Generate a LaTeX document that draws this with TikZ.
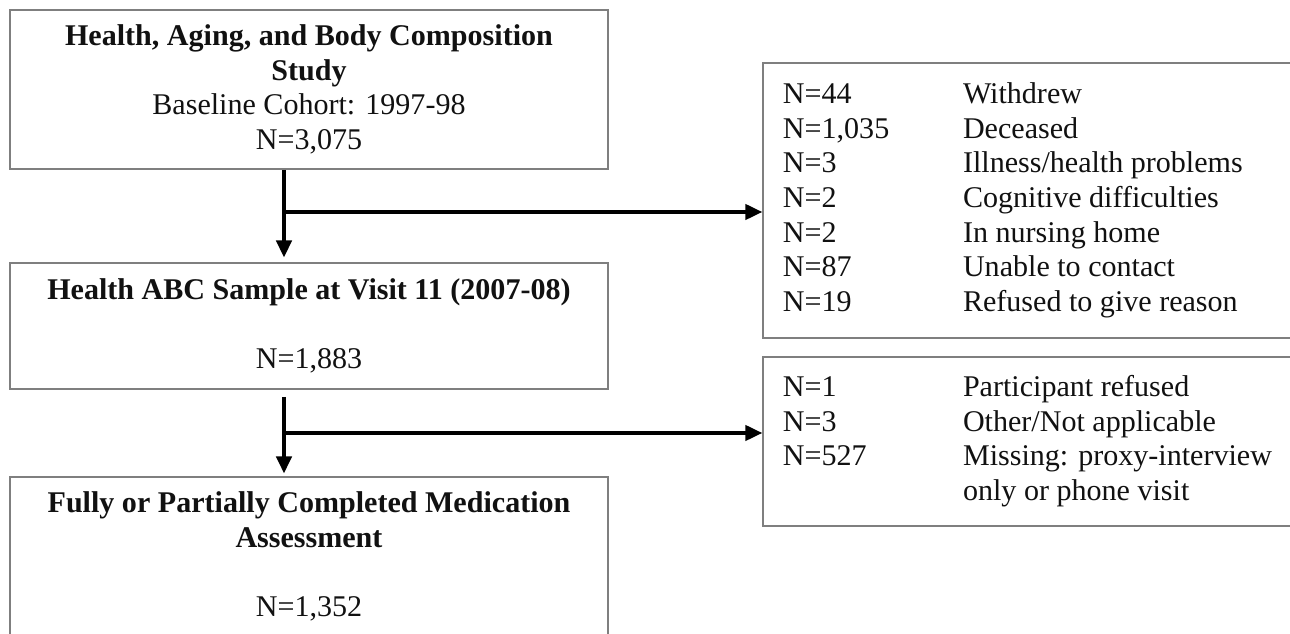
\documentclass[tikz,border=0pt]{standalone}
\usepackage{fontspec}
\setmainfont{Liberation Serif}
\usetikzlibrary{arrows.meta}
\definecolor{BoxLine}{HTML}{7F7F7F}
\definecolor{Ink}{HTML}{111111}

\begin{document}
\begin{tikzpicture}[x=0.0145cm,y=-0.0145cm,
  box/.style={draw=BoxLine,line width=0.6pt,minimum width=8.671cm,inner sep=0pt,align=center,text=Ink,font=\fontsize{12.4}{14.3}\selectfont},
  listbox/.style={draw=BoxLine,line width=0.6pt,minimum width=7.93cm,inner xsep=0.29cm,inner ysep=0pt,text=Ink,font=\fontsize{12.4}{14.3}\selectfont},
  flow/.style={line width=1.25pt,-{Triangle[length=7pt,width=6.4pt]}}
]
\useasboundingbox (0,0) rectangle (1290,634);
\clip (0,0) rectangle (1290,634);
\node[box,minimum height=2.306cm] (study) at (309,89.5) {
  \textbf{Health, Aging, and Body Composition}\\
  \textbf{Study}\\
  Baseline Cohort: 1997-98\\
  N=3,075
};
\node[box,minimum height=1.827cm] (visit) at (309,326) {
  \textbf{Health ABC Sample at Visit 11 (2007-08)}\\[14.3pt]
  N=1,883
};
\node[box,minimum height=2.306cm] (medassess) at (309,556.5) {
  \textbf{Fully or Partially Completed Medication}\\
  \textbf{Assessment}\\[14.3pt]
  N=1,352
};
\node[listbox,minimum height=3.99cm] (lost) at (1036.5,200.5) {
  \begin{tabular}{@{}p{2.61cm}@{}p{4.74cm}@{}}
  N=44 & Withdrew\\
  N=1,035 & Deceased\\
  N=3 & Illness/health problems\\
  N=2 & Cognitive difficulties\\
  N=2 & In nursing home\\
  N=87 & Unable to contact\\
  N=19 & Refused to give reason
  \end{tabular}
};
\node[listbox,minimum height=2.45cm] (nomeds) at (1036.5,441.5) {
  \begin{tabular}{@{}p{2.61cm}@{}p{4.74cm}@{}}
  N=1 & Participant refused\\
  N=3 & Other/Not applicable\\
  N=527 & Missing: proxy-interview\\
   & only or phone visit
  \end{tabular}
};
\coordinate (fork1) at (284,212);
\coordinate (fork2) at (284,433);
\draw[flow,shorten >=2pt] (study.south -| fork1) -- (visit.north -| fork1);
\draw[flow] (fork1) -- (fork1 -| lost.west);
\draw[flow,shorten <=2.9pt,shorten >=1.2pt] (visit.south -| fork2) -- (medassess.north -| fork2);
\draw[flow] (fork2) -- (fork2 -| nomeds.west);
\end{tikzpicture}
\end{document}
